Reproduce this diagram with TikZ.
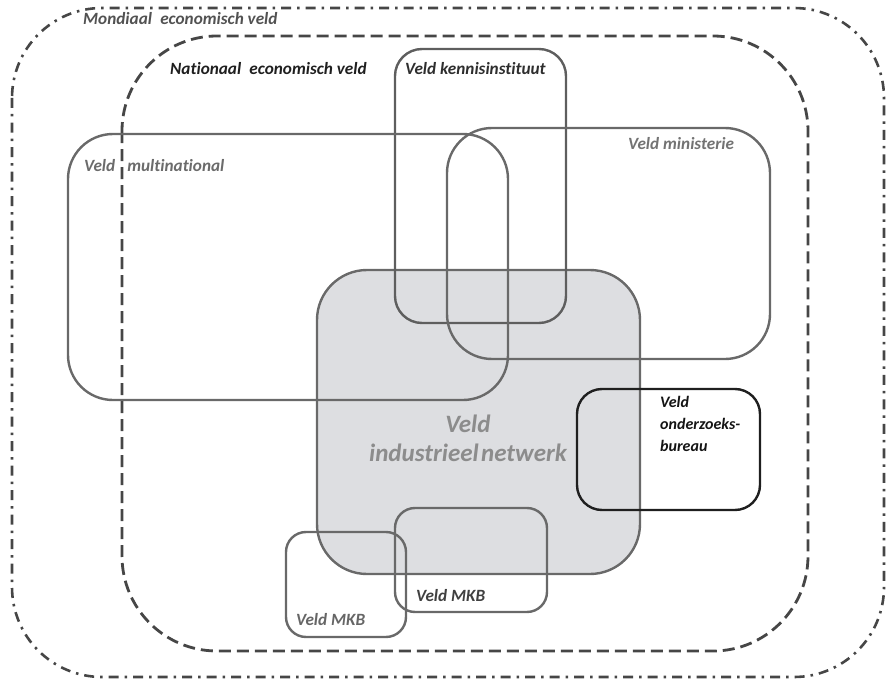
\documentclass[tikz,border=0pt]{standalone}
\usepackage{fontspec}
\setmainfont{Carlito}[Ligatures=NoCommon]
\begin{document}
\begin{tikzpicture}[x=1pt,y=-1pt,
  fieldbox/.style={draw=boxgray, line width=2.4pt},
  lbl/.style={inner sep=0pt, font=\fontsize{17.2}{21}\selectfont\bfseries\itshape},
  worlddash/.style={draw=dashgray, line width=2.6pt,
    dash pattern=on 10pt off 6pt on 2.5pt off 6pt},
  natdash/.style={draw=dashgray, line width=2.8pt,
    dash pattern=on 12pt off 6pt}]
\definecolor{boxgray}{RGB}{105,105,105}
\definecolor{dashgray}{RGB}{70,70,70}
\definecolor{netfill}{RGB}{221,222,225}
\useasboundingbox (0,0) rectangle (887,685);

% industrial network field, filled, drawn first
\draw[fieldbox, fill=netfill, rounded corners=50pt] (317,270) rectangle (640,574);

% world and national fields
\draw[worlddash, rounded corners=90pt] (12,8) rectangle (884,677);
\draw[natdash, rounded corners=95pt] (122,36) rectangle (808,651);

% other fields
\draw[fieldbox, draw=boxgray!90!black, rounded corners=27pt] (395,49) rectangle (566,323);
\draw[fieldbox, rounded corners=45pt] (68,134) rectangle (508,400);
\draw[fieldbox, rounded corners=45pt] (447,128) rectangle (770,359);
\draw[fieldbox, draw=black!88, rounded corners=25pt] (577,389) rectangle (760,510);
\draw[fieldbox, rounded corners=20pt] (286,532) rectangle (406,637);
\draw[fieldbox, rounded corners=20pt] (395,508) rectangle (547,612);

% labels
\node[lbl, anchor=west, text=black!68] (tworld) at (83,19) {Mondiaal\hspace{0.25em} economisch veld};
\node[lbl, anchor=west, text=black!88] (tnat) at (170,69) {Nationaal\hspace{0.25em} economisch veld};
\node[lbl, anchor=west, text=black!82] (tkennis) at (405,69) {Veld kennisinstituut};
\node[lbl, anchor=west, text=black!55] (tmin) at (628,144) {Veld ministerie};
\node[lbl, anchor=west, text=black!58] (tmulti) at (84,166) {Veld\hspace{0.7em}multinational};
\node[inner sep=0pt, align=center, text=black!45,
      font=\fontsize{25}{29}\selectfont\bfseries\itshape] (tnet) at (468,438)
      {Veld\\industrieel\hspace{0.1em}netwerk};
\node[lbl, anchor=north west, align=left, text=black!92,
      font=\fontsize{16}{22}\selectfont\bfseries\itshape] (tonder) at (660,396)
      {Veld\\onderzoeks-\\bureau};
\node[lbl, anchor=west, text=black!75] (tmkbb) at (416,596) {Veld MKB};
\node[lbl, anchor=west, text=black!60] (tmkba) at (296,620) {Veld MKB};
\end{tikzpicture}
\end{document}
